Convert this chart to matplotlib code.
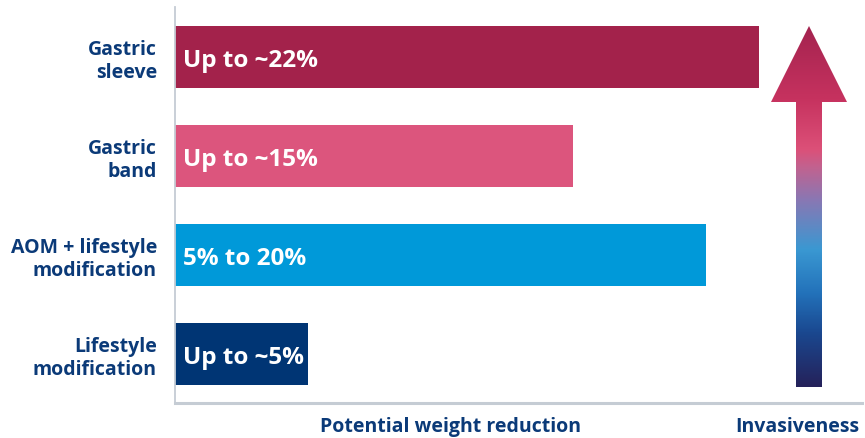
import numpy as np
import matplotlib.pyplot as plt
from matplotlib.colors import LinearSegmentedColormap
from matplotlib.patches import Polygon

plt.rcParams['font.family'] = ['Open Sans', 'DejaVu Sans']
plt.rcParams['font.weight'] = 'bold'

# data, bottom to top
categories = ['Lifestyle\nmodification', 'AOM + lifestyle\nmodification', 'Gastric\nband', 'Gastric\nsleeve']
values = [5, 20, 15, 22]
bar_labels = ['Up to ~5%', '5% to 20%', 'Up to ~15%', 'Up to ~22%']
bar_colors = ['#003574', '#0099d9', '#dc557d', '#a3224b']

label_blue = '#0b3a78'
spine_grey = '#c5ccd4'

fig = plt.figure(figsize=(8.65, 4.39), dpi=100)
W, H = 865, 439
ax = fig.add_axes([175 / W, (H - 404) / H, (862 - 175) / W, (404 - 8) / H])

ypos = np.arange(len(categories))
ax.barh(ypos, values, height=0.626, color=bar_colors, zorder=2)
for y, v, t in zip(ypos, values, bar_labels):
    ax.annotate(t, (0, y), xytext=(5.5, -2.5), textcoords='offset points',
                ha='left', va='center', color='white', fontsize=17.5, fontweight='bold')

ax.set_xlim(0, 25.88)
ax.set_ylim(-0.495, 3.505)
ax.set_yticks(ypos)
ax.set_yticklabels(categories, fontsize=14, fontweight='bold', color=label_blue,
                   ha='right', linespacing=1.15)
ax.tick_params(axis='y', length=0, pad=13)
ax.set_xticks([])
for s in ['top', 'right']:
    ax.spines[s].set_visible(False)
ax.spines['left'].set_color(spine_grey)
ax.spines['left'].set_linewidth(1.3)
ax.spines['bottom'].set_color(spine_grey)
ax.spines['bottom'].set_linewidth(2.2)

fig.text(451 / W, 1 - 427 / H, 'Potential weight reduction', ha='center', va='center',
         fontsize=14, fontweight='bold', color=label_blue)
fig.text(797 / W, 1 - 427 / H, 'Invasiveness', ha='center', va='center',
         fontsize=14, fontweight='bold', color=label_blue)

# gradient arrow, drawn in pixel space
ov = fig.add_axes([0, 0, 1, 1])
ov.set_xlim(0, W)
ov.set_ylim(H, 0)
ov.axis('off')
ov.patch.set_alpha(0)

arrow_stops = [(0.0, '#a4234f'), (0.2, '#c6325f'), (0.34, '#dc5078'), (0.39, '#c2628f'),
               (0.48, '#8a77b3'), (0.62, '#3a98d2'), (0.74, '#2372ba'),
               (0.85, '#1a4890'), (1.0, '#25215a')]
cmap = LinearSegmentedColormap.from_list('invasive', arrow_stops)

top, head_base, bottom = 27, 103, 388
cx, head_half, shaft_half = 809, 38, 13
pts = [(cx, top), (cx + head_half, head_base), (cx + shaft_half, head_base),
       (cx + shaft_half, bottom), (cx - shaft_half, bottom), (cx - shaft_half, head_base),
       (cx - head_half, head_base)]
poly = Polygon(pts, closed=True, facecolor='none', edgecolor='none')
ov.add_patch(poly)
grad = np.linspace(0, 1, 256).reshape(-1, 1)
im = ov.imshow(grad, cmap=cmap, aspect='auto',
               extent=(cx - head_half, cx + head_half, bottom, top), origin='upper')
im.set_clip_path(poly)
ov.set_xlim(0, W)
ov.set_ylim(H, 0)

fig.savefig('out.png', dpi=100)
